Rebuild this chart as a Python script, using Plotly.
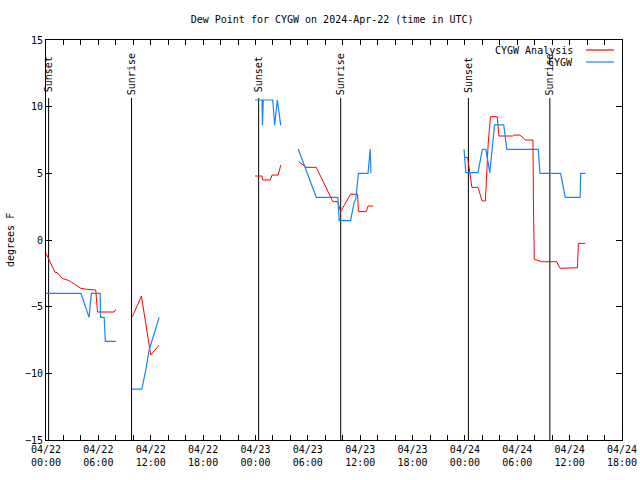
import plotly.graph_objects as go

# ---- data ----
analysis_times = [
    "2024-04-22 00:00", "2024-04-22 00:20", "2024-04-22 01:02", "2024-04-22 01:18", "2024-04-22 01:52",
    "2024-04-22 02:27", "2024-04-22 02:50", "2024-04-22 03:24", "2024-04-22 03:59", "2024-04-22 04:44",
    "2024-04-22 05:42", "2024-04-22 05:54", "2024-04-22 07:48", "2024-04-22 08:00", None,
    "2024-04-22 09:54", "2024-04-22 10:56", "2024-04-22 11:22", "2024-04-22 11:38", "2024-04-22 11:49",
    "2024-04-22 12:00", "2024-04-22 12:58", None,
    "2024-04-22 23:57", "2024-04-23 00:45", "2024-04-23 00:48", "2024-04-23 01:42", "2024-04-23 01:54",
    "2024-04-23 02:36", "2024-04-23 02:54", None,
    "2024-04-23 04:58", "2024-04-23 05:18", "2024-04-23 05:48", "2024-04-23 06:58", "2024-04-23 08:52",
    "2024-04-23 09:26", "2024-04-23 09:45", "2024-04-23 10:54", "2024-04-23 11:42", "2024-04-23 11:48",
    "2024-04-23 12:42", "2024-04-23 12:54", "2024-04-23 13:28", None,
    "2024-04-23 23:54", "2024-04-24 00:18", "2024-04-24 00:33", "2024-04-24 00:48", "2024-04-24 01:30",
    "2024-04-24 01:58", "2024-04-24 02:21", "2024-04-24 02:30", "2024-04-24 02:40", "2024-04-24 02:56",
    "2024-04-24 03:42", "2024-04-24 03:54", "2024-04-24 05:27", "2024-04-24 05:36", "2024-04-24 06:18",
    "2024-04-24 06:57", "2024-04-24 07:48", "2024-04-24 07:51", "2024-04-24 07:57", "2024-04-24 08:48",
    "2024-04-24 10:30", "2024-04-24 10:54", "2024-04-24 11:48", "2024-04-24 11:51", "2024-04-24 12:54",
    "2024-04-24 13:00", "2024-04-24 13:48",
]
analysis_values = [
    -1.0, -1.5, -2.42, -2.45, -2.88,
    -3.0, -3.12, -3.37, -3.62, -3.7,
    -3.75, -5.4, -5.4, -5.2, None,
    -5.75, -4.2, -6.0, -7.0, -8.0,
    -8.63, -7.88, None,
    4.8, 4.8, 4.5, 4.5, 4.87,
    4.87, 5.62, None,
    5.88, 5.7, 5.45, 5.45, 2.88,
    2.88, 2.13, 3.43, 3.43, 2.13,
    2.13, 2.55, 2.55, None,
    6.2, 6.2, 5.13, 3.95, 3.95,
    2.93, 2.93, 4.87, 7.25, 9.25,
    9.25, 7.8, 7.8, 7.87, 7.87,
    7.5, 7.5, 3.0, -1.45, -1.63,
    -1.63, -2.12, -2.12, -2.08, -2.08,
    -0.25, -0.25,
]

obs_times = [
    "2024-04-22 00:00", "2024-04-22 04:00", "2024-04-22 04:56", "2024-04-22 05:12", "2024-04-22 06:12",
    "2024-04-22 06:15", "2024-04-22 06:40", "2024-04-22 06:48", "2024-04-22 08:00", None,
    "2024-04-22 09:50", "2024-04-22 10:59", "2024-04-22 11:26", "2024-04-22 11:49", "2024-04-22 12:58", None,
    "2024-04-22 23:57", "2024-04-23 00:45", "2024-04-23 00:48", "2024-04-23 00:54", "2024-04-23 01:59",
    "2024-04-23 02:12", "2024-04-23 02:30", "2024-04-23 02:42", "2024-04-23 02:54", None,
    "2024-04-23 04:54", "2024-04-23 06:58", "2024-04-23 09:26", "2024-04-23 09:36", "2024-04-23 10:54",
    "2024-04-23 11:18", "2024-04-23 11:30", "2024-04-23 11:48", "2024-04-23 12:54", "2024-04-23 13:03",
    "2024-04-23 13:09", "2024-04-23 13:14", None,
    "2024-04-23 23:54", "2024-04-24 00:06", "2024-04-24 01:30", "2024-04-24 02:00", "2024-04-24 02:24",
    "2024-04-24 02:42", "2024-04-24 02:51", "2024-04-24 03:24", "2024-04-24 04:27", "2024-04-24 04:48",
    "2024-04-24 08:24", "2024-04-24 08:36", "2024-04-24 10:58", "2024-04-24 11:30", "2024-04-24 13:12",
    "2024-04-24 13:16", "2024-04-24 13:48",
]
obs_values = [
    -4.0, -4.0, -5.8, -4.0, -4.0,
    -5.8, -5.8, -7.6, -7.6, None,
    -11.18, -11.18, -9.75, -8.25, -5.8, None,
    10.5, 10.5, 8.6, 10.5, 10.5,
    8.6, 10.5, 9.6, 8.6, None,
    6.83, 3.2, 3.2, 1.45, 1.45,
    2.8, 3.1, 5.0, 5.0, 6.3,
    6.83, 5.0, None,
    6.8, 5.05, 5.05, 6.8, 6.8,
    5.8, 5.05, 8.63, 8.63, 6.8,
    6.8, 5.0, 5.0, 3.2, 3.2,
    5.0, 5.0,
]

sun_times = ["2024-04-22 00:18", "2024-04-22 09:48", "2024-04-23 00:22",
             "2024-04-23 09:46", "2024-04-24 00:24", "2024-04-24 09:44"]
sun_labels = ["Sunset", "Sunrise", "Sunset", "Sunrise", "Sunset", "Sunrise"]

x_range = ["2024-04-22 00:00", "2024-04-24 18:00"]
y_range = [-15, 15]
SUN_LINE_TOP = 10.65
SUN_LABEL_Y = 12.4

FONT = "DejaVu Sans Mono"
FS = 10
RED = "#ff0000"
BLUE = "#1a82ff"

fig = go.Figure()

# sunrise / sunset vertical lines
sx, sy = [], []
for t in sun_times:
    sx += [t, t, None]
    sy += [SUN_LINE_TOP, y_range[0], None]
fig.add_trace(go.Scatter(x=sx, y=sy, mode="lines", line=dict(color="black", width=1),
                         showlegend=False, hoverinfo="skip"))

fig.add_trace(go.Scatter(x=analysis_times, y=analysis_values, mode="lines", name="CYGW Analysis",
                         line=dict(color=RED, width=1), connectgaps=False, showlegend=False))
fig.add_trace(go.Scatter(x=obs_times, y=obs_values, mode="lines", name="CYGW",
                         line=dict(color=BLUE, width=1.2), connectgaps=False, showlegend=False))

annotations = []
for t, lbl in zip(sun_times, sun_labels):
    annotations.append(dict(x=t, y=SUN_LABEL_Y, xref="x", yref="y", text=lbl, textangle=-90,
                            showarrow=False, xanchor="center", yanchor="middle",
                            font=dict(family=FONT, size=FS, color="black")))

# manual gnuplot-style legend (text, then line sample)
legend_items = [("CYGW Analysis", RED, 0.975), ("CYGW", BLUE, 0.945)]
shapes = []
for name, col, yp in legend_items:
    annotations.append(dict(x=0.919, y=yp, xref="paper", yref="paper", text=name, showarrow=False,
                            xanchor="right", yanchor="middle",
                            font=dict(family=FONT, size=FS, color="black")))
    shapes.append(dict(type="line", xref="paper", yref="paper", x0=0.9375, x1=0.986, y0=yp, y1=yp,
                       line=dict(color=col, width=1.2)))

annotations.append(dict(x=-0.0625, y=0.5, xref="paper", yref="paper", text="degrees F",
                        textangle=-90, showarrow=False, xanchor="center", yanchor="middle",
                        font=dict(family=FONT, size=FS, color="black")))

fig.update_layout(
    width=640, height=480,
    margin=dict(l=46, r=18, t=40, b=40, autoexpand=False),
    paper_bgcolor="white", plot_bgcolor="white",
    title=dict(text="Dew Point for CYGW on 2024-Apr-22 (time in UTC)", x=0.519, xanchor="center",
               y=0.96, yanchor="middle", font=dict(family=FONT, size=FS, color="black")),
    font=dict(family=FONT, size=FS, color="black"),
    annotations=annotations,
    shapes=shapes,
    showlegend=False,
)

fig.update_xaxes(
    type="date", range=x_range, showgrid=False, zeroline=False, automargin=False,
    showline=True, linecolor="black", linewidth=1, mirror="allticks",
    ticks="inside", ticklen=5, tickcolor="black",
    tick0="2024-04-22 00:00", dtick=6 * 3600 * 1000,
    tickformat="%m/%d<br>%H:%M",
    tickfont=dict(family=FONT, size=FS, color="black"),
    minor=dict(dtick=2 * 3600 * 1000, ticks="inside", ticklen=5, tickcolor="black", showgrid=False),
)
fig.update_yaxes(
    range=y_range, showgrid=False, zeroline=False, automargin=False,
    showline=True, linecolor="black", linewidth=1, mirror="allticks",
    ticks="inside", ticklen=6, tickcolor="black",
    tick0=-15, dtick=5,
    tickfont=dict(family=FONT, size=FS, color="black"),
)

# remove the default page margin so the 640x480 figure fills the window exactly
fig.write_html("out.html",
               config={"displayModeBar": False},
               post_script="document.body.style.margin='0';document.body.style.overflow='hidden';")
